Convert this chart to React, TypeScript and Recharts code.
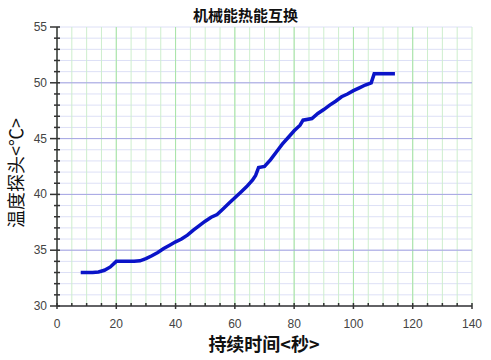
import React from 'react';
import { LineChart, Line, XAxis, YAxis, CartesianGrid, ReferenceLine } from 'recharts';

// elapsed time (s) and probe temperature (°C)
const timeSec = [8, 10, 12, 14, 16, 18, 20, 22, 24, 26, 28, 30, 32, 34, 36, 38, 40, 42, 44, 46, 48, 50, 52, 54, 56, 58, 60, 62, 64, 66, 67, 68, 70, 72, 74, 76, 78, 80, 82, 83, 86, 88, 90, 92, 94, 96, 98, 100, 102, 104, 106, 107, 110, 114];
const tempC = [33.0, 33.0, 33.0, 33.05, 33.2, 33.5, 34.0, 34.0, 34.0, 34.0, 34.05, 34.25, 34.5, 34.8, 35.15, 35.45, 35.75, 36.0, 36.35, 36.8, 37.2, 37.6, 37.95, 38.2, 38.7, 39.2, 39.7, 40.2, 40.7, 41.3, 41.7, 42.4, 42.5, 43.1, 43.8, 44.5, 45.1, 45.7, 46.2, 46.65, 46.8, 47.25, 47.6, 48.0, 48.35, 48.75, 49.0, 49.3, 49.55, 49.8, 50.0, 50.8, 50.8, 50.8];

const xTicks = [0, 5, 10, 15, 20, 25, 30, 35, 40, 45, 50, 55, 60, 65, 70, 75, 80, 85, 90, 95, 100, 105, 110, 115, 120, 125, 130, 135, 140];
const xMajor = [20, 40, 60, 80, 100, 120];
const yTicks = [30, 31, 32, 33, 34, 35, 36, 37, 38, 39, 40, 41, 42, 43, 44, 45, 46, 47, 48, 49, 50, 51, 52, 53, 54, 55];
const yMajor = [35, 40, 45, 50];

const data = timeSec.map((t, i) => ({ t, temp: tempC[i] }));

const axisColor = '#333';
const labelFont = '"Liberation Sans", Arial, sans-serif';
const cjkFont = '"Noto Sans CJK SC", sans-serif';

const BottomTick = (props: any) => {
  const { x, y, payload } = props;
  const major = payload.value % 20 === 0;
  return (
    <g>
      <line x1={x} y1={y - 3} x2={x} y2={major ? y + 3 : y} stroke={axisColor} strokeWidth={1.5} />
      {major && (
        <text x={x} y={y + 22} textAnchor="middle" fontSize={12} fontFamily={labelFont} fill="#444">
          {payload.value}
        </text>
      )}
    </g>
  );
};

const TopTick = (props: any) => {
  const { x, y, payload } = props;
  const major = payload.value % 20 === 0;
  return <line x1={x} y1={y} x2={x} y2={y + (major ? 5 : 3)} stroke={axisColor} strokeWidth={1.5} />;
};

const LeftTick = (props: any) => {
  const { x, y, payload } = props;
  const major = payload.value % 5 === 0;
  return (
    <g>
      <line x1={major ? x - 7 : x - 3} y1={y} x2={x + 3} y2={y} stroke={axisColor} strokeWidth={1.5} />
      {major && (
        <text x={x - 10} y={y + 4} textAnchor="end" fontSize={12} fontFamily={labelFont} fill="#444">
          {payload.value}
        </text>
      )}
    </g>
  );
};

const RightTick = (props: any) => {
  const { x, y } = props;
  return <line x1={x - 3} y1={y} x2={x} y2={y} stroke={axisColor} strokeWidth={1.5} />;
};

export default function App() {
  return (
    <div style={{ position: 'absolute', left: 0, top: 0, width: 491, height: 360, background: '#fff' }}>
      <LineChart width={491} height={360} data={data} margin={{ top: 27, right: 19, bottom: 0, left: 0 }}>
        <CartesianGrid xAxisId="b" yAxisId="l" stroke="#dde0f6" vertical={false} />
        <CartesianGrid xAxisId="b" yAxisId="l" stroke="#cdeecd" horizontal={false} />
        {xMajor.map((v) => (
          <ReferenceLine key={'x' + v} xAxisId="b" yAxisId="l" x={v} stroke="#a9e4a9" />
        ))}
        {yMajor.map((v) => (
          <ReferenceLine key={'y' + v} xAxisId="b" yAxisId="l" y={v} stroke="#a6a6e2" />
        ))}
        <XAxis
          xAxisId="b"
          dataKey="t"
          type="number"
          domain={[0, 140]}
          ticks={xTicks}
          interval={0}
          height={54}
          tickSize={0}
          tickMargin={0}
          tickLine={false}
          axisLine={{ stroke: axisColor, strokeWidth: 1.5 }}
          tick={<BottomTick />}
        />
        <XAxis
          xAxisId="top"
          orientation="top"
          dataKey="t"
          type="number"
          domain={[0, 140]}
          ticks={xTicks}
          interval={0}
          height={0}
          tickSize={0}
          tickMargin={0}
          tickLine={false}
          axisLine={{ stroke: axisColor, strokeWidth: 1.5 }}
          tick={<TopTick />}
        />
        <YAxis
          yAxisId="l"
          type="number"
          domain={[30, 55]}
          ticks={yTicks}
          interval={0}
          width={57}
          tickSize={0}
          tickMargin={0}
          tickLine={false}
          axisLine={{ stroke: axisColor, strokeWidth: 1.5 }}
          tick={<LeftTick />}
        />
        <YAxis
          yAxisId="r"
          orientation="right"
          type="number"
          domain={[30, 55]}
          ticks={yTicks}
          interval={0}
          width={0}
          tickSize={0}
          tickMargin={0}
          tickLine={false}
          axisLine={{ stroke: axisColor, strokeWidth: 1.5 }}
          tick={<RightTick />}
        />
        <Line
          xAxisId="b"
          yAxisId="l"
          type="linear"
          dataKey="temp"
          stroke="#0a14c8"
          strokeWidth={3.5}
          dot={false}
          isAnimationActive={false}
        />
      </LineChart>
      <div
        style={{
          position: 'absolute', top: 5, left: 0, width: 491, textAlign: 'center',
          fontFamily: cjkFont, fontWeight: 'bold', fontSize: 15, lineHeight: '20px', color: '#111',
        }}
      >
        机械能热能互换
      </div>
      <div
        style={{
          position: 'absolute', top: 331, left: 164, width: 200, textAlign: 'center',
          fontFamily: cjkFont, fontWeight: 'bold', fontSize: 18, lineHeight: '24px', color: '#111',
        }}
      >
        持续时间&lt;秒&gt;
      </div>
      <div
        style={{
          position: 'absolute', top: 161, left: -85, width: 200, textAlign: 'center',
          transform: 'rotate(-90deg)',
          fontFamily: cjkFont, fontWeight: 'normal', fontSize: 18, lineHeight: '24px', color: '#111',
        }}
      >
        温度探头&lt;℃&gt;
      </div>
    </div>
  );
}
